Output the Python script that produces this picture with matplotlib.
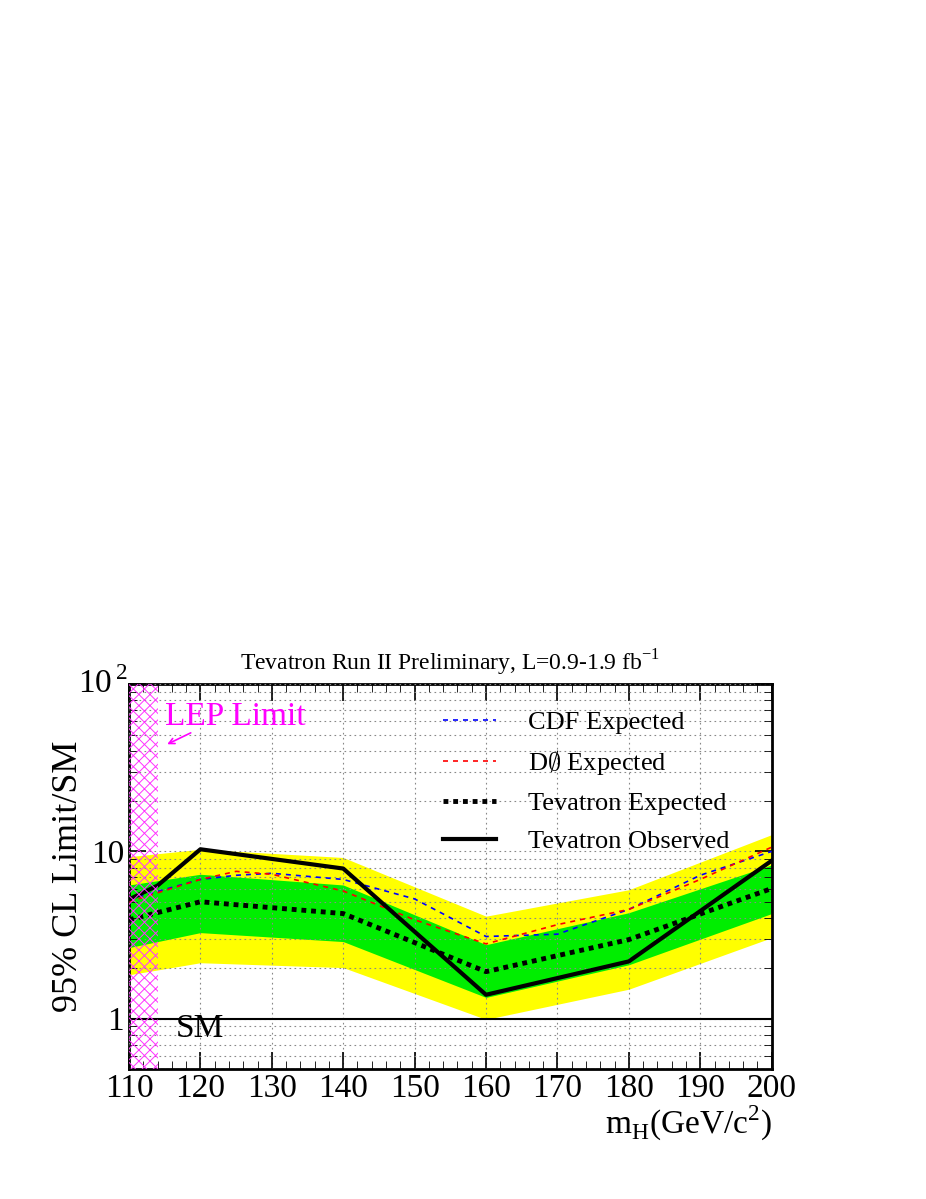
import matplotlib
matplotlib.use("Agg")
import matplotlib.pyplot as plt
from matplotlib.ticker import LogLocator, NullFormatter, FixedLocator, FixedFormatter, MultipleLocator

plt.rcParams['font.family'] = ['Liberation Serif', 'DejaVu Serif']
plt.rcParams['mathtext.fontset'] = 'custom'
plt.rcParams['mathtext.rm'] = 'Liberation Serif'
plt.rcParams['hatch.color'] = '#ff33ff'
plt.rcParams['hatch.linewidth'] = 0.7

band_x = [110, 120, 140, 160, 180, 200]
y2_hi = [9.3, 10.3, 9.2, 4.1, 5.9, 12.6]
y2_lo = [1.83, 2.16, 2.02, 0.99, 1.5, 3.05]
g1_hi = [6.3, 7.3, 6.3, 2.77, 4.3, 8.3]
g1_lo = [2.66, 3.27, 2.89, 1.34, 2.1, 4.25]
tev_exp = [3.9, 5.0, 4.25, 1.91, 2.97, 6.0]

obs_x = [110, 114, 120, 140, 160, 180, 200]
obs_y = [5.16, 6.25, 10.3, 7.9, 1.39, 2.2, 8.8]

exp_x = [110, 120, 125, 130, 140, 150, 160, 170, 180, 190, 200]
cdf_y = [5.16, 6.8, 7.2, 7.4, 6.8, 5.2, 3.1, 3.2, 4.5, 7.2, 10.0]
d0_y = [5.0, 6.8, 7.6, 7.3, 5.8, 3.9, 2.8, 3.65, 4.5, 6.8, 10.6]

fig = plt.figure(figsize=(9.26, 11.99), dpi=100)
ax = fig.add_axes([0.1393, 0.1084, 0.694, 0.321])
ax.fill_between(band_x, y2_lo, y2_hi, color='#ffff00', lw=0, zorder=1)
ax.fill_between(band_x, g1_lo, g1_hi, color='#00ee00', lw=0, zorder=2)
ax.grid(True, which='major', axis='x', color='#888888', ls=(0, (1.5, 3)), lw=0.8, zorder=3)
ax.grid(True, which='both', axis='y', color='#888888', ls=(0, (1.5, 3)), lw=0.8, zorder=3)
ax.set_axisbelow(False)
ax.axhline(1, color='black', lw=1.5, zorder=4)
ax.plot(exp_x, cdf_y, color='blue', ls=(0, (3, 3)), lw=1.2, zorder=5, label='CDF Expected')
ax.plot(exp_x, d0_y, color='red', ls=(0, (3, 3)), lw=1.2, zorder=5, label='D$\\emptyset$ Expected')
ax.plot(band_x, tev_exp, color='black', ls=(0, (1, 1)), lw=3.5, zorder=6, label='Tevatron Expected')
ax.plot(obs_x, obs_y, color='black', lw=3, zorder=7, label='Tevatron Observed')
ax.fill_betweenx([0.5, 100], 110, 114, facecolor='none', hatch='xxx', edgecolor='#ff33ff', lw=0, zorder=8)

ax.set_yscale('log')
ax.set_xlim(110, 200)
ax.set_ylim(0.5, 100)
ax.xaxis.set_major_locator(MultipleLocator(10))
ax.xaxis.set_minor_locator(MultipleLocator(2))
ax.yaxis.set_major_locator(FixedLocator([1, 10, 100]))
ax.yaxis.set_major_formatter(FixedFormatter(['1', '10', '']))
ax.yaxis.set_minor_locator(LogLocator(subs=range(2, 10)))
ax.yaxis.set_minor_formatter(NullFormatter())
ax.tick_params(which='both', direction='in', right=True, top=True, labelsize=24)
ax.tick_params(which='major', length=12, width=1.2)
ax.tick_params(which='minor', length=6)
for s in ax.spines.values():
    s.set_linewidth(2)
ax.text(-0.04, 1.0, '10$^{\\,2}$', transform=ax.transAxes, fontsize=24, ha='center', va='center')
ax.set_ylabel('95% CL Limit/SM', fontsize=26)
ax.text(1.0, -0.09, 'm$_\\mathregular{H}$(GeV/c$^\\mathregular{2}$)', transform=ax.transAxes, fontsize=24, ha='right', va='top')
ax.set_title('Tevatron Run II Preliminary, L=0.9-1.9 fb$^\\mathregular{-1}$', fontsize=17, pad=10)
ax.text(116.5, 0.78, 'SM', fontsize=24)
ax.text(115, 57, 'LEP Limit', fontsize=24, color='#ff00ff')
ax.annotate('', xy=(115, 43), xytext=(119, 52),
            arrowprops=dict(arrowstyle='->', color='#ff00ff', lw=1.2))
leg = ax.legend(loc='upper left', bbox_to_anchor=(0.46, 0.98), frameon=False, fontsize=19,
                handlelength=2.0, handletextpad=1.2, labelspacing=0.55, borderaxespad=0.3)
fig.savefig('out.png', dpi=100)
